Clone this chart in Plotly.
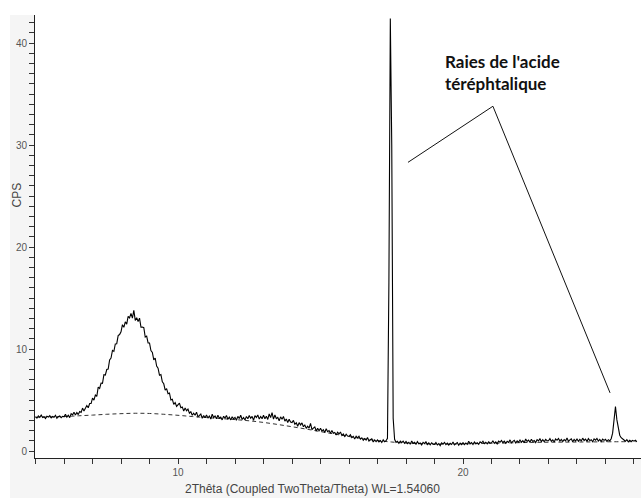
import plotly.graph_objects as go

# Diffractogram: scan parameters (degrees 2theta)
SCAN_START = 5.00
SCAN_STEP = 0.05

# Measured counts per second, one row per degree of 2theta
cps = [
    # 5
    3.38, 3.22, 3.45, 3.30, 3.52, 3.28, 3.36, 3.18, 3.41, 3.33, 3.47, 3.25, 3.39, 3.31, 3.50, 3.20, 3.36, 3.44, 3.27, 3.40,
    # 6
    3.35, 3.61, 3.32, 3.51, 3.27, 3.66, 3.54, 3.79, 3.53, 3.78, 3.57, 3.87, 3.79, 4.21, 3.91, 4.20, 4.45, 4.24, 4.65, 4.65,
    # 7
    5.18, 4.99, 5.48, 5.35, 6.27, 6.14, 6.66, 6.64, 7.48, 7.45, 7.99, 8.03, 8.93, 9.11, 9.87, 9.77, 10.49, 10.52, 11.31, 11.42,
    # 8
    11.69, 12.38, 12.13, 12.67, 12.44, 13.19, 13.04, 13.49, 13.02, 13.78, 12.80, 13.07, 12.69, 13.02, 12.14, 12.16, 12.09, 11.18, 11.27, 10.60,
    # 9
    10.59, 9.84, 9.67, 8.94, 9.12, 8.33, 8.12, 7.43, 7.49, 6.79, 6.59, 5.96, 6.11, 5.62, 5.69, 5.01, 5.08, 4.57, 4.74, 4.37,
    # 10
    4.57, 4.70, 4.24, 4.32, 3.92, 4.21, 3.95, 4.11, 3.71, 3.85, 3.50, 3.70, 3.50, 3.81, 3.35, 3.50, 3.62, 3.21, 3.48, 3.26,
    # 11
    3.53, 3.23, 3.43, 3.14, 3.60, 3.28, 3.43, 3.16, 3.51, 3.21, 3.32, 3.05, 3.41, 3.23, 3.48, 3.11, 3.32, 3.05, 3.35, 3.15,
    # 12
    3.30, 3.02, 3.40, 3.19, 3.50, 3.09, 3.28, 3.03, 3.39, 3.16, 3.48, 3.21, 3.39, 3.01, 3.47, 3.28, 3.54, 3.13, 3.38, 3.17,
    # 13
    3.50, 3.17, 3.41, 3.09, 3.63, 3.27, 3.77, 3.13, 3.53, 3.18, 3.29, 2.96, 3.35, 3.12, 3.39, 2.93, 3.14, 2.80, 3.11, 2.84,
    # 14
    2.79, 3.00, 2.62, 2.77, 2.43, 2.78, 2.56, 2.76, 2.38, 2.55, 2.22, 2.43, 2.24, 2.70, 2.10, 2.25, 2.37, 1.96, 2.22, 1.99,
    # 15
    2.22, 1.95, 2.09, 1.82, 2.19, 1.90, 2.00, 1.75, 2.02, 1.74, 1.81, 1.56, 1.84, 1.67, 1.86, 1.52, 1.68, 1.43, 1.65, 1.46,
    # 16
    1.43, 1.60, 1.31, 1.43, 1.18, 1.45, 1.29, 1.44, 1.16, 1.29, 1.04, 1.21, 1.07, 1.32, 0.98, 1.10, 1.19, 0.88, 1.08, 0.91,
    # 17
    1.09, 0.89, 1.03, 0.84, 1.10, 0.91, 1.01, 1.25, 16.5, 42.4, 30.0, 3.20, 1.15, 0.85, 0.96, 0.76, 0.96, 0.81, 0.96, 0.76,
    # 18
    0.93, 0.72, 0.86, 0.66, 0.98, 0.75, 0.86, 0.67, 0.92, 0.71, 0.79, 0.60, 0.85, 0.72, 0.90, 0.64, 0.79, 0.60, 0.81, 0.67,
    # 19
    0.65, 0.83, 0.59, 0.73, 0.53, 0.80, 0.68, 0.85, 0.63, 0.77, 0.57, 0.75, 0.64, 0.88, 0.60, 0.73, 0.83, 0.57, 0.77, 0.63,
    # 20
    0.82, 0.62, 0.78, 0.65, 0.95, 0.71, 0.82, 0.64, 0.89, 0.72, 0.81, 0.65, 0.89, 0.78, 0.96, 0.72, 0.86, 0.70, 0.90, 0.79,
    # 21
    0.80, 0.99, 0.75, 0.90, 0.70, 0.98, 0.86, 1.03, 0.81, 0.96, 0.76, 0.95, 0.84, 1.09, 0.80, 0.94, 1.04, 0.79, 0.99, 0.86,
    # 22
    1.08, 0.86, 1.02, 0.81, 1.18, 0.94, 1.07, 0.87, 1.15, 0.93, 1.03, 0.83, 1.12, 0.99, 1.20, 0.92, 1.10, 0.90, 1.14, 1.01,
    # 23
    1.01, 1.21, 0.95, 1.10, 0.88, 1.18, 1.05, 1.23, 0.98, 1.14, 0.93, 1.12, 1.00, 1.27, 0.95, 1.09, 1.20, 0.91, 1.13, 0.98,
    # 24
    1.18, 0.95, 1.14, 0.99, 1.26, 1.03, 1.17, 0.94, 1.21, 1.02, 1.11, 0.91, 1.19, 1.06, 1.23, 0.98, 1.13, 0.93, 1.16, 1.04,
    # 25
    1.14, 0.95, 1.11, 0.99, 1.20, 1.75, 3.30, 4.35, 3.05, 2.05, 1.55, 1.30, 1.22, 1.08, 0.95, 1.12, 0.90, 1.06, 0.93, 1.04,
    # 26
    0.96, 1.05, 0.92,
]
two_theta = [round(SCAN_START + SCAN_STEP * i, 2) for i in range(len(cps))]

# Fitted amorphous background (dashed)
bg_theta = [5.0, 5.5, 6.0, 6.5, 7.0, 7.5, 8.0, 8.5, 9.0, 9.5, 10.0, 10.5, 11.0, 11.5, 12.0, 12.5,
            13.0, 13.5, 14.0, 14.5, 15.0, 15.5, 16.0, 16.5, 17.0, 17.5, 18.0, 18.5, 19.0, 19.5,
            20.0, 21.0, 22.0, 23.0, 24.0, 25.0, 26.1]
bg_cps = [3.30, 3.34, 3.38, 3.45, 3.52, 3.60, 3.66, 3.70, 3.68, 3.60, 3.50, 3.38, 3.28, 3.18, 3.08, 2.96,
          2.80, 2.60, 2.38, 2.15, 1.90, 1.66, 1.42, 1.20, 1.02, 0.88, 0.78, 0.72, 0.68, 0.68,
          0.70, 0.75, 0.82, 0.86, 0.88, 0.90, 0.92]

# Axis ticks: one tick per unit, labels only on the listed values
y_tick_values = list(range(0, 43))
y_tick_labelled = [0, 10, 20, 30, 40]
x_tick_values = list(range(5, 27))
x_tick_labelled = [10, 20]

# Callout for the terephthalic acid reflections
callout_text = "Raies de l'acide<br>téréphtalique"
callout_anchor = (19.3, 39.4)
callout_path = [(18.07, 28.3), (21.05, 33.8), (25.16, 5.7)]

X_RANGE = [4.982, 26.246]
Y_RANGE = [-0.686, 42.745]


def tick_text(values, labelled):
    return [str(v) if v in labelled else "" for v in values]


fig = go.Figure()
fig.add_trace(go.Scatter(
    x=bg_theta, y=bg_cps, mode="lines",
    line=dict(color="#333333", width=1, dash="4px,3px", shape="spline"),
    hoverinfo="skip", showlegend=False,
))
fig.add_trace(go.Scatter(
    x=two_theta, y=cps, mode="lines",
    line=dict(color="#000000", width=1.1),
    showlegend=False,
))

# Leader lines of the callout
for (x0, y0), (x1, y1) in zip(callout_path[:-1], callout_path[1:]):
    fig.add_shape(type="line", xref="x", yref="y", x0=x0, y0=y0, x1=x1, y1=y1,
                  line=dict(color="#111111", width=1))

fig.add_annotation(
    x=callout_anchor[0], y=callout_anchor[1], xref="x", yref="y",
    xanchor="left", yanchor="top", align="left", showarrow=False,
    text=callout_text,
    font=dict(family="Lato", size=17, color="#111111", weight="bold"),
)

# Axis titles
fig.add_annotation(
    x=(312 - 35) / 606, y=-0.071, xref="paper", yref="paper",
    xanchor="center", yanchor="middle", showarrow=False,
    text="2Thêta (Coupled TwoTheta/Theta) WL=1.54060",
    font=dict(family="Liberation Sans, Arial", size=12, color="#444444"),
)
fig.add_annotation(
    x=-0.029, y=(458 - 195) / 443, xref="paper", yref="paper",
    xanchor="center", yanchor="middle", showarrow=False, textangle=-90,
    text="CPS",
    font=dict(family="Liberation Sans, Arial", size=12, color="#444444"),
)

# White margins around the grey frame
fig.add_shape(type="rect", xref="paper", yref="paper", layer="below",
              x0=-35 / 606, x1=-25 / 606, y0=-0.2, y1=1.1,
              fillcolor="white", line_width=0)
fig.add_shape(type="rect", xref="paper", yref="paper", layer="below",
              x0=-0.1, x1=1.1, y0=1.0, y1=1.1,
              fillcolor="white", line_width=0)

tick_font = dict(family="Liberation Sans, Arial", size=10, color="#555555")

fig.update_xaxes(
    range=X_RANGE, showgrid=False, zeroline=False,
    showline=True, linecolor="#222222", linewidth=1,
    tickmode="array", tickvals=x_tick_values,
    ticktext=tick_text(x_tick_values, x_tick_labelled),
    ticks="outside", ticklen=5, tickcolor="#333333", tickwidth=1,
    tickfont=tick_font,
)
fig.update_yaxes(
    range=Y_RANGE, showgrid=False, zeroline=False,
    showline=True, linecolor="#222222", linewidth=1,
    tickmode="array", tickvals=y_tick_values,
    ticktext=tick_text(y_tick_values, y_tick_labelled),
    ticks="outside", ticklen=5, tickcolor="#333333", tickwidth=1,
    tickfont=tick_font,
)

fig.update_layout(
    width=641, height=498,
    margin=dict(l=35, r=0, t=15, b=40),
    paper_bgcolor="#f5f5f5", plot_bgcolor="white",
    showlegend=False,
)

fig.write_html("out.html")
